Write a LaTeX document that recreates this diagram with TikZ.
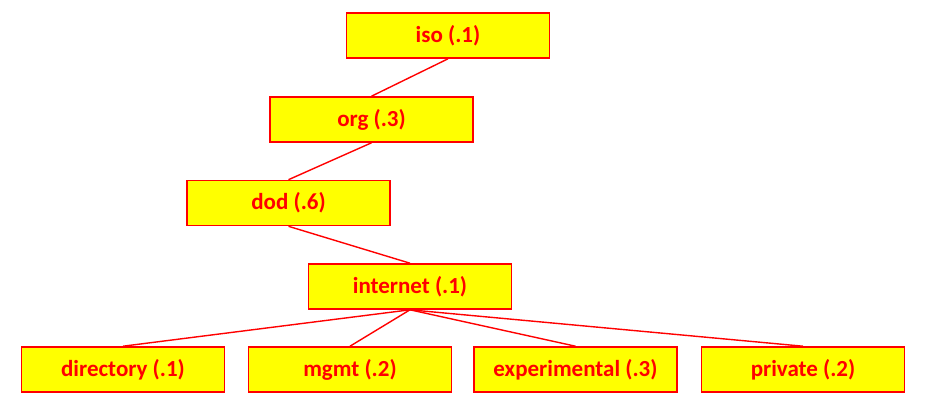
\documentclass[tikz,border=0pt]{standalone}
\usepackage{fontspec}
\setmainfont{Carlito}
\definecolor{boxred}{HTML}{FF0000}
\definecolor{boxyellow}{HTML}{FFFF00}
\begin{document}
\begin{tikzpicture}[x=1pt,y=-1pt,
  oid/.style={draw=boxred,fill=boxyellow,line width=1.6pt,minimum width=203pt,minimum height=45pt,
    inner sep=0pt,text=boxred,font=\bfseries\fontsize{23}{26}\selectfont},
  link/.style={draw=boxred,line width=1.4pt}]
\useasboundingbox (0,0) rectangle (925,413);
\node[oid] (iso) at (448,35.5) {iso (.1)};
\node[oid] (org) at (371.5,119.5) {org (.3)};
\node[oid] (dod) at (288.5,203) {dod (.6)};
\node[oid] (internet) at (410,286.5) {internet (.1)};
\node[oid] (directory) at (123,369.5) {directory (.1)};
\node[oid] (mgmt) at (350,369.5) {mgmt (.2)};
\node[oid] (experimental) at (575.5,369.5) {experimental (.3)};
\node[oid] (private) at (803,369.5) {private (.2)};
\draw[link] (iso.south) -- (org.north);
\draw[link] (org.south) -- (dod.north);
\draw[link] (dod.south) -- (internet.north);
\foreach \n in {directory,mgmt,experimental,private}
  \draw[link] (internet.south) -- (\n.north);
\end{tikzpicture}
\end{document}
